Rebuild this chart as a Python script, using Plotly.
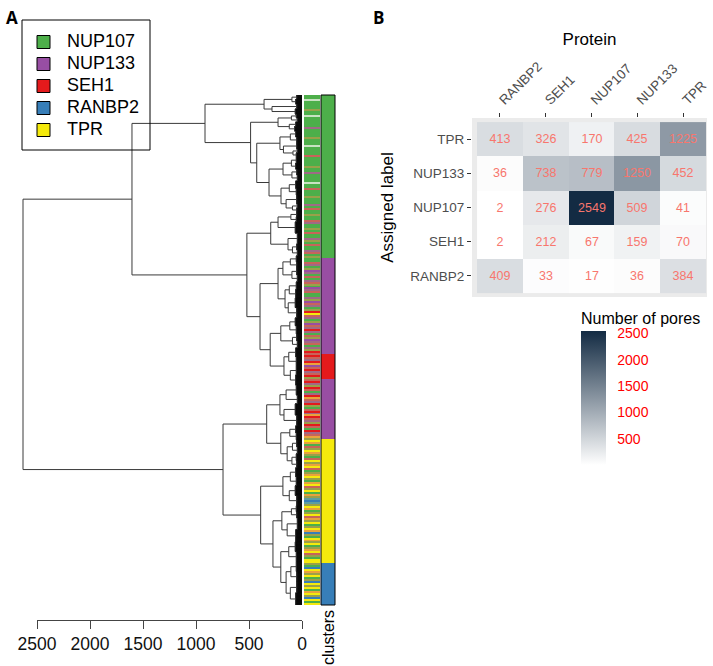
import plotly.graph_objects as go

W, H = 713, 666

# ---------------- panel B: assigned label vs protein ----------------
proteins = ["RANBP2", "SEH1", "NUP107", "NUP133", "TPR"]
assigned = ["RANBP2", "SEH1", "NUP107", "NUP133", "TPR"]
pores_RANBP2 = [409, 33, 17, 36, 384]
pores_SEH1 = [2, 212, 67, 159, 70]
pores_NUP107 = [2, 276, 2549, 509, 41]
pores_NUP133 = [36, 738, 779, 1250, 452]
pores_TPR = [413, 326, 170, 425, 1225]
cbar_ticks = [500, 1000, 1500, 2000, 2500]

# ---------------- panel A: dendrogram ----------------
legend_names = ["NUP107", "NUP133", "SEH1", "RANBP2", "TPR"]
legend_colors = ["#4DAF4A", "#984EA3", "#E41A1C", "#377EB8", "#F5EA0C"]

cluster_labels = ["NUP107", "NUP133", "SEH1", "NUP133", "TPR", "RANBP2"]
cluster_sizes = [3377, 2003, 510, 1252, 2559, 879]

height_ticks = [0, 500, 1000, 1500, 2000, 2500]

# node = (merge height, left, right); leaf group = (height, number of pores)
A1 = (358, (95, (50, 90), (60, 97)), (283, (50, 104), (65, 104)))
A2a = (226, (100, (55, 80), (45, 86)), (120, (60, 95), (70, 92)))
B1 = (208, (110, (60, 120), (50, 129)), (175, (50, 124), (85, (45, 80), (55, 86))))
B2 = (311, (179, (100, (55, 130), (60, 119)), (95, (50, 120), (45, 129))),
      (198, (120, (60, 150), (55, 140)), (150, (50, 187), (90, (45, 80), (50, 86)))))
N1a = (915, A1, (485, A2a, (427, B1, B2)))
C1 = (295, (226, (105, (50, 100), (55, 107)), (65, 228)),
      (132, (45, 228), (90, (50, 120), (45, 129))))
C2 = (396, (226, (180, (110, (55, 120), (50, 129)), (95, (50, 140), (45, 150))),
            (160, (120, (55, 160), (60, 172)), (130, (65, 200), (50, 215)))),
      (300, (200, (115, (65, 160), (55, 172)), (90, (50, 140), (45, 150))),
            (170, (125, (60, 180), (55, 193)), (110, (55, 190), (60, 204)))))
N1 = (1604, N1a, (520, C1, C2))
D1 = (208, (150, (55, 207), (45, 187)), (170, (65, 228), (50, 228)))
D2 = (200, (115, (60, 140), (55, 150)),
      (140, (90, (50, 140), (45, 150)), (95, (55, 140), (50, 150))))
E1 = (180, (110, (60, 180), (55, 193)), (120, (65, 200), (50, 215)))
E2 = (274, (190, (100, (55, 120), (50, 129)), (140, (45, 249), (60, 249))),
      (200, (125, (65, 200), (55, 215)),
            (150, (105, (55, 200), (50, 215)), (110, (50, 230), (60, 250)))))
N2 = (745, (333, D1, D2), (390, E1, E2))
tree = (2632, N1, N2)

# true protein of the pores, top to bottom (read by eye, 2px bands)
strip_codes = (
    "GGwGGGGoGGwGGGGGmGGGGoGGGwGGGGsGGGGGoGGmGGGGwGGsGGGoGGGmGsGGoGGsmGGoGsGGmoGsGGmsGoG"
    "GsmGoPmGsGmsoGPmsGGmoPsmGoRYsmGoPsmRmGsoPmsGmoRs"
    "RsmRaPsRmsRo"
    "sRmoRsGmRasmRoGsRmaRsmoRsGRmsa"
    "oYaGsoYaoGsYoaYsGoaYoGaYsoYGaotBtoYaGoYsaoYGoYaBoGYaoYGoaYsoGY"
    "YoGBYaoYGoBYoYGaYoBYGY"
)
strip_palette = {"G": "#4DAF4A", "P": "#984EA3", "R": "#E41A1C", "B": "#377EB8",
                 "Y": "#F5EA0C", "o": "#9AA04A", "s": "#C8645A", "m": "#A06A86",
                 "w": "#C9E2C2", "a": "#E9A23C", "t": "#5E9EA0"}


def X(px):
    return px / W


def Y(py):
    return 1 - py / H


def discrete_scale(colors):
    n = len(colors)
    out = []
    for i, c in enumerate(colors):
        out += [[i / n, c], [(i + 1) / n, c]]
    return out


# walk the tree
seg_x, seg_y, leaf_x, leaf_y = [], [], [], []


def walk(node, start):
    if len(node) == 2:
        h, n = node
        ys = [start + i + 0.5 for i in range(n)]
        seg_x.extend([h, h, None])
        seg_y.extend([ys[0], ys[-1], None])
        for yv in ys:
            leaf_x.extend([h, 0, None])
            leaf_y.extend([yv, yv, None])
        return start + n / 2, h, start + n
    h, left, right = node
    yl, hl, mid = walk(left, start)
    yr, hr, end = walk(right, mid)
    seg_x.extend([hl, h, h, hr, None])
    seg_y.extend([yl, yl, yr, yr, None])
    return (yl + yr) / 2, h, end


_, _, n_total = walk(tree, 0)

fig = go.Figure()

fig.add_trace(go.Scatter(x=leaf_x, y=leaf_y, mode="lines", line=dict(color="#111", width=0.5),
                         hoverinfo="skip", showlegend=False, xaxis="x", yaxis="y"))
fig.add_trace(go.Scatter(x=seg_x, y=seg_y, mode="lines", line=dict(color="#3a3a3a", width=1),
                         hoverinfo="skip", showlegend=False, xaxis="x", yaxis="y"))

# colour strip
pal_keys = list(strip_palette.keys())
nb = len(strip_codes)
fig.add_trace(go.Heatmap(
    z=[[pal_keys.index(c)] for c in strip_codes],
    x=[0, 1], y=[n_total * i / nb for i in range(nb + 1)],
    colorscale=discrete_scale([strip_palette[k] for k in pal_keys]),
    zmin=-0.5, zmax=len(pal_keys) - 0.5, showscale=False, hoverinfo="skip",
    xaxis="x2", yaxis="y"))

# cluster bar
edges = [0]
for s in cluster_sizes:
    edges.append(edges[-1] + s * n_total / sum(cluster_sizes))
fig.add_trace(go.Heatmap(
    z=[[legend_names.index(c)] for c in cluster_labels],
    x=[0, 1], y=edges,
    colorscale=discrete_scale(legend_colors),
    zmin=-0.5, zmax=len(legend_colors) - 0.5, showscale=False, hoverinfo="skip",
    xaxis="x4", yaxis="y"))

# height axis (needs a trace so the subplot is drawn)
fig.add_trace(go.Scatter(x=height_ticks, y=[0] * len(height_ticks), mode="markers",
                         marker=dict(opacity=0), hoverinfo="skip", showlegend=False,
                         xaxis="x3", yaxis="y3"))

# legend box
rows = list(range(len(legend_names)))
fig.add_trace(go.Scatter(x=[21.5] * len(rows), y=rows, mode="markers",
                         marker=dict(symbol="square", size=13, color=legend_colors,
                                     line=dict(color="black", width=1)),
                         hoverinfo="skip", showlegend=False, xaxis="x6", yaxis="y6"))
fig.add_trace(go.Scatter(x=[45] * len(rows), y=rows, mode="text", text=legend_names,
                         textposition="middle right", textfont=dict(size=18, color="black"),
                         hoverinfo="skip", showlegend=False, xaxis="x6", yaxis="y6"))

# heatmap
fig.add_trace(go.Heatmap(
    z=[pores_RANBP2, pores_SEH1, pores_NUP107, pores_NUP133, pores_TPR],
    x=proteins, y=assigned,
    colorscale=[[0, "#FFFFFF"], [1, "#132B43"]], zmin=2, zmax=2549,
    texttemplate="%{z}", textfont=dict(color="#F8766D", size=12.5),
    hoverinfo="skip", xaxis="x5", yaxis="y5",
    colorbar=dict(x=X(581), xanchor="left", y=Y(309), yanchor="top",
                  len=156, lenmode="pixels", thickness=25, thicknessmode="pixels",
                  outlinewidth=0, ticks="outside", ticklen=9, tickcolor="rgba(0,0,0,0)",
                  tickvals=cbar_ticks, tickfont=dict(color="#FF0000", size=14),
                  xpad=0, ypad=0,
                  title=dict(text="Number of pores", side="top",
                             font=dict(size=16, color="black")))))

ppu = 53 / 500  # pixels per height unit
hidden = dict(visible=False, automargin=False)
fig.update_layout(
    width=W, height=H, autosize=False,
    margin=dict(l=0, r=0, t=0, b=0, autoexpand=False),
    paper_bgcolor="white", plot_bgcolor="rgba(0,0,0,0)",
    font=dict(family="Liberation Sans, Arial, sans-serif", color="black"),
    showlegend=False,
    xaxis=dict(domain=[0, X(303)], range=[302 / ppu, -1 / ppu], **hidden),
    yaxis=dict(domain=[Y(605), Y(95)], range=[n_total, 0], **hidden),
    xaxis2=dict(domain=[X(304), X(320)], range=[0, 1], anchor="y", **hidden),
    xaxis4=dict(domain=[X(321), X(335)], range=[0, 1], anchor="y", **hidden),
    xaxis3=dict(domain=[X(37), X(302)], range=[2500, 0], anchor="y3", automargin=False,
                tickvals=height_ticks, ticks="outside", ticklen=8, tickcolor="#444",
                showline=True, linecolor="#444", linewidth=1,
                tickfont=dict(size=17.5, color="#111"), showgrid=False, zeroline=False),
    yaxis3=dict(domain=[Y(620), Y(615)], range=[0, 1], anchor="x3", **hidden),
    xaxis6=dict(domain=[X(22), X(150)], range=[0, 128], anchor="y6", **hidden),
    yaxis6=dict(domain=[Y(150), Y(20)], range=[130 / 22 - 1, -1], anchor="x6", **hidden),
    xaxis5=dict(domain=[X(472), X(707)], range=[-0.61, 4.52], anchor="y5", side="top",
                automargin=False,
                categoryorder="array", categoryarray=proteins, tickangle=-45,
                ticks="outside", ticklen=4, tickcolor="#333",
                tickfont=dict(size=13.5, color="#4D4D4D"), showgrid=False, zeroline=False,
                title=dict(text="Protein", font=dict(size=17, color="black"), standoff=8)),
    yaxis5=dict(domain=[Y(297), Y(118)], range=[-0.62, 4.62], anchor="x5",
                automargin=False,
                categoryorder="array", categoryarray=assigned,
                ticks="outside", ticklen=4, tickcolor="#333",
                tickfont=dict(size=13.5, color="#4D4D4D"), showgrid=False, zeroline=False,
                title=dict(text="Assigned label", font=dict(size=17, color="black"), standoff=12)),
    shapes=[
        dict(type="rect", xref="x5 domain", yref="y5 domain", x0=0, x1=1, y0=0, y1=1,
             fillcolor="#EBEBEB", line=dict(width=0), layer="below"),
        dict(type="rect", xref="x4 domain", yref="y domain", x0=0, x1=1, y0=0, y1=1,
             line=dict(color="black", width=1)),
        dict(type="rect", xref="x6 domain", yref="y6 domain", x0=0, x1=1, y0=0, y1=1,
             line=dict(color="black", width=1)),
    ],
    annotations=[
        dict(text="<b>A</b>", x=X(4), y=Y(4), xref="paper", yref="paper",
             xanchor="left", yanchor="top", showarrow=False,
             font=dict(family="Open Sans", size=17, color="black")),
        dict(text="<b>B</b>", x=X(371), y=Y(4), xref="paper", yref="paper",
             xanchor="left", yanchor="top", showarrow=False,
             font=dict(family="Open Sans", size=17, color="black")),
        dict(text="clusters", x=X(328), y=Y(638), xref="paper", yref="paper",
             xanchor="center", yanchor="middle",
             textangle=-90, showarrow=False, font=dict(size=16, color="black")),
    ],
)

fig.write_html("out.html", config={"displayModeBar": False},
               post_script="document.body.style.margin='0';")
